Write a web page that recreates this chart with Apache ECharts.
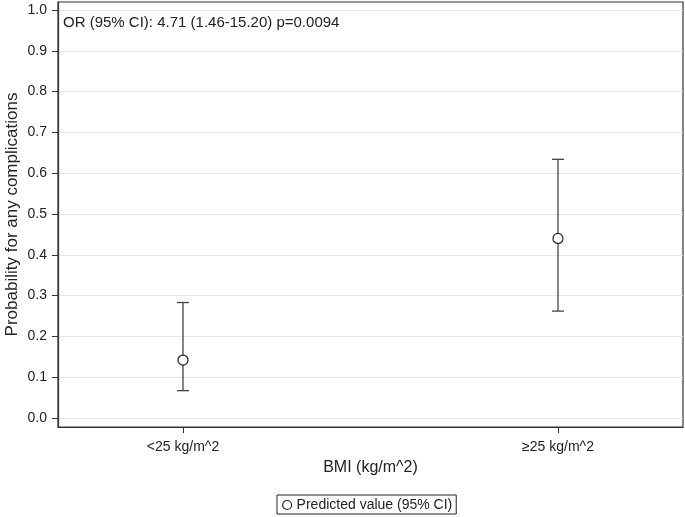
<!DOCTYPE html>
<html>
<head>
<meta charset="utf-8">
<script src="https://cdn.jsdelivr.net/npm/echarts@6/dist/echarts.min.js"></script>
<style>html,body{margin:0;padding:0;background:#fff;}#c{width:685px;height:517px;}</style>
</head>
<body>
<div id="c"></div>
<script>
var categories = ['<25 kg/m^2', '\u226525 kg/m^2'];
var catPositions = [1, 2];
var predicted = [0.142, 0.440];
var lower = [0.067, 0.262];
var upper = [0.283, 0.634];
var yTicks = [0, 0.1, 0.2, 0.3, 0.4, 0.5, 0.6, 0.7, 0.8, 0.9, 1.0];
var annotation = 'OR (95% CI): 4.71 (1.46-15.20) p=0.0094';
var seriesName = 'Predicted value (95% CI)';

var FONT = '"Liberation Sans", Arial, sans-serif';
var chart = echarts.init(document.getElementById('c'), null, {renderer: 'canvas'});

var ciData = catPositions.map(function (x, i) { return [x, lower[i], upper[i]]; });
var ptData = catPositions.map(function (x, i) { return [x, predicted[i]]; });

chart.setOption({
  animation: false,
  backgroundColor: '#fff',
  title: {
    text: annotation, left: 58, top: 10,
    textStyle: {fontFamily: FONT, fontSize: 15, fontWeight: 'normal', color: '#222'}
  },
  grid: {
    left: 58, right: 2, top: 2, bottom: 90,
    outerBoundsMode: 'none', containLabel: false,
    show: true, borderColor: '#333', borderWidth: 1.2, backgroundColor: 'transparent'
  },
  legend: {
    data: [{name: seriesName, icon: 'circle'}],
    left: 277, top: 495,
    padding: [3, 4, 2, 5],
    itemWidth: 9, itemHeight: 9, itemGap: 5,
    borderColor: '#222', borderWidth: 1,
    textStyle: {fontFamily: FONT, fontSize: 14, color: '#222'},
    itemStyle: {color: '#fff', borderColor: '#222', borderWidth: 1.2}
  },
  xAxis: {
    type: 'value', min: 2 / 3, max: 7 / 3,
    name: 'BMI (kg/m^2)', nameLocation: 'middle', nameGap: 33,
    nameTextStyle: {fontFamily: FONT, fontSize: 16, color: '#222'},
    axisLine: {show: true, onZero: false, lineStyle: {color: '#333', width: 1.2}},
    axisTick: {show: true, length: 6, customValues: catPositions, lineStyle: {color: '#333'}},
    axisLabel: {
      customValues: catPositions, margin: 13,
      fontFamily: FONT, fontSize: 14, color: '#222',
      formatter: function (v) { var i = catPositions.indexOf(Math.round(v)); return i >= 0 ? categories[i] : ''; }
    },
    splitLine: {show: false}
  },
  yAxis: {
    type: 'value', min: -0.0221, max: 1.0196,
    name: 'Probability for any complications', nameLocation: 'middle', nameGap: 37,
    nameMoveOverlap: false,
    nameTextStyle: {fontFamily: FONT, fontSize: 17, color: '#222'},
    axisLine: {show: true, onZero: false, lineStyle: {color: '#333', width: 1.2}},
    axisTick: {show: true, length: 6, customValues: yTicks, lineStyle: {color: '#333'}},
    axisLabel: {
      customValues: yTicks, margin: 11,
      fontFamily: FONT, fontSize: 14, color: '#222',
      formatter: function (v) { return v.toFixed(1); }
    },
    splitLine: {show: true, lineStyle: {color: '#e6e6e6', width: 1.2}}
  },
  series: [
    {
      name: seriesName,
      type: 'custom',
      data: ciData,
      z: 2,
      renderItem: function (params, api) {
        var x = api.value(0);
        var lo = api.coord([x, api.value(1)]);
        var hi = api.coord([x, api.value(2)]);
        var hw = 6;
        var style = {stroke: '#444', lineWidth: 1.3};
        return {
          type: 'group',
          children: [
            {type: 'line', shape: {x1: lo[0], y1: lo[1], x2: hi[0], y2: hi[1]}, style: style},
            {type: 'line', shape: {x1: lo[0] - hw, y1: lo[1], x2: lo[0] + hw, y2: lo[1]}, style: style},
            {type: 'line', shape: {x1: hi[0] - hw, y1: hi[1], x2: hi[0] + hw, y2: hi[1]}, style: style}
          ]
        };
      }
    },
    {
      name: seriesName,
      type: 'scatter',
      data: ptData,
      z: 5,
      symbol: 'circle',
      symbolSize: 10,
      itemStyle: {color: '#fff', borderColor: '#222', borderWidth: 1.2, opacity: 1}
    }
  ]
});
</script>
</body>
</html>
